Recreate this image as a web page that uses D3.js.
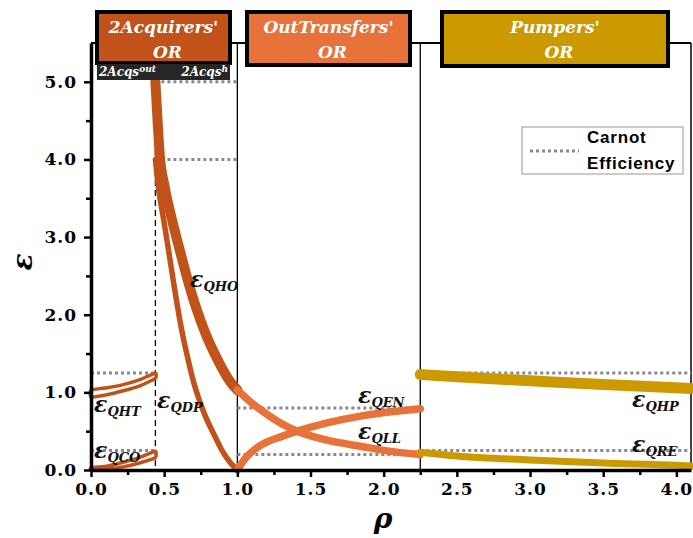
<!DOCTYPE html>
<html>
<head>
<meta charset="utf-8">
<script src="https://cdn.jsdelivr.net/npm/d3@7"></script>
<style>
  body { margin: 0; background: #fff; }
  svg { display: block; }
</style>
</head>
<body>
<svg id="canvas" width="693" height="538"></svg>
<script>
// curves: [rho, epsilon]
let qhtUp = [[0,1.03],[0.11,1.06],[0.22,1.10],[0.33,1.16],[0.44,1.25]];
let qhtLo = [[0,0.94],[0.11,0.97],[0.22,1.02],[0.33,1.08],[0.44,1.18]];
let qcoUp = [[0,0.03],[0.11,0.05],[0.22,0.10],[0.33,0.16],[0.44,0.24]];
let qcoLo = [[0,0.0],[0.11,0.01],[0.22,0.04],[0.33,0.09],[0.44,0.16]];
let qho = [[0.44,5.0],[0.455,4.5],[0.47,4.05],[0.5,3.68],[0.55,3.25],[0.6,2.88],[0.665,2.42],[0.72,2.08],[0.78,1.77],[0.86,1.44],[0.95,1.14],[1.0,1.03]];
let qdp = [[0.44,4.0],[0.46,3.65],[0.494,3.25],[0.52,2.95],[0.563,2.43],[0.62,1.8],[0.66,1.45],[0.70,1.14],[0.74,0.9],[0.78,0.7],[0.84,0.46],[0.89,0.27],[0.95,0.1],[1.0,0.0]];
let qll = [[1.0,1.03],[1.1,0.86],[1.2,0.72],[1.3,0.6],[1.41,0.5],[1.6,0.39],[1.86,0.30],[2.05,0.24],[2.25,0.2]];
let qen = [[1.0,0.0],[1.03,0.09],[1.09,0.22],[1.18,0.34],[1.3,0.43],[1.41,0.5],[1.6,0.6],[1.86,0.70],[2.05,0.75],[2.25,0.79]];
let qhp = [[2.25,1.23],[2.5,1.2],[3.0,1.15],[3.5,1.1],[4.0,1.06],[4.1,1.05]];
let qre = [[2.25,0.23],[2.5,0.18],[3.0,0.13],[3.5,0.09],[4.0,0.06],[4.1,0.05]];

// carnot efficiency segments: [rho start, rho end, epsilon]
let carnot = [[0,0.44,1.25],[0,0.44,0.25],[0.44,1.0,5.0],[0.44,1.0,4.0],[1.0,2.25,0.8],[1.0,2.25,0.2],[2.25,4.1,1.25],[2.25,4.1,0.25]];

let yTicks = [0,1,2,3,4,5];
let yMinor = [0.5,1.5,2.5,3.5,4.5];
let xTicks = [0,0.5,1,1.5,2,2.5,3,3.5,4];
let xMinor = [0.25,0.75,1.25,1.75,2.25,2.75,3.25,3.75];
let regionBreaks = [0.44,1.0,2.25];

let c1 = '#c0521a', c2 = '#e8733a', c3 = '#cc9900';

let svg = d3.select('#canvas');
let x = d3.scaleLinear().domain([0,4.1]).range([91,691]);
let y = d3.scaleLinear().domain([0,5.5]).range([470,43]);

let line = d3.line().x(d=>x(d[0])).y(d=>y(d[1])).curve(d3.curveMonotoneX);
let serif = '"DejaVu Serif", serif';

// frame
svg.append('line').attr('x1',x(0)).attr('x2',x(4.1)).attr('y1',y(5.5)).attr('y2',y(5.5))
    .attr('stroke','#000').attr('stroke-width',2);
svg.append('line').attr('x1',x(4.1)).attr('x2',x(4.1)).attr('y1',y(5.5)).attr('y2',y(0))
    .attr('stroke','#000').attr('stroke-width',1.5);

// region separators
svg.append('line').attr('x1',x(regionBreaks[0])).attr('x2',x(regionBreaks[0]))
    .attr('y1',80).attr('y2',y(0)).attr('stroke','#000').attr('stroke-width',1.3)
    .attr('stroke-dasharray','6,4');
regionBreaks.slice(1).forEach(b=>{
    svg.append('line').attr('x1',x(b)).attr('x2',x(b)).attr('y1',y(5.5)).attr('y2',y(0))
        .attr('stroke','#000').attr('stroke-width',1.3);
});

// carnot lines
svg.selectAll('.carnot').data(carnot).enter().append('line')
    .attr('class','carnot')
    .attr('x1',d=>x(d[0])).attr('x2',d=>x(d[1]))
    .attr('y1',d=>y(d[2])).attr('y2',d=>y(d[2]))
    .attr('stroke','#8a8a8a').attr('stroke-width',3).attr('stroke-dasharray','3,3');

// curves
function band(up, lo, col){
    let pts = up.concat(lo.slice().reverse());
    svg.append('path')
        .attr('d', d3.line().x(d=>x(d[0])).y(d=>y(d[1])).curve(d3.curveCardinalClosed.tension(0.6))(pts))
        .attr('fill','none').attr('stroke',col).attr('stroke-width',3.5);
}
band(qhtUp, qhtLo, c1);
band(qcoUp, qcoLo, c1);

let curves = [
    {d:qdp, c:c1, w:5.5},
    {d:qho, c:c1, w:10},
    {d:qll, c:c2, w:7.5},
    {d:qen, c:c2, w:7.5},
    {d:qhp, c:c3, w:11},
    {d:qre, c:c3, w:7}
];
svg.selectAll('.curve').data(curves).enter().append('path')
    .attr('class','curve')
    .attr('d',d=>line(d.d))
    .attr('fill','none')
    .attr('stroke',d=>d.c)
    .attr('stroke-width',d=>d.w)
    .attr('stroke-linecap','round');

// axes
let yAxis = svg.append('g').attr('transform','translate('+x(0)+',0)')
    .call(d3.axisLeft(y).tickValues(yTicks).tickFormat(d3.format('.1f')).tickSize(7).tickSizeOuter(0));
svg.append('g').attr('transform','translate('+x(0)+',0)')
    .call(d3.axisLeft(y).tickValues(yMinor).tickFormat('').tickSize(5).tickSizeOuter(0))
    .select('.domain').remove();
let xAxis = svg.append('g').attr('transform','translate(0,'+y(0)+')')
    .call(d3.axisBottom(x).tickValues(xTicks).tickFormat(d3.format('.1f')).tickSize(7).tickSizeOuter(0));
svg.append('g').attr('transform','translate(0,'+y(0)+')')
    .call(d3.axisBottom(x).tickValues(xMinor).tickFormat('').tickSize(5).tickSizeOuter(0))
    .select('.domain').remove();

svg.selectAll('.domain').attr('stroke-width',3.5);
svg.selectAll('.tick line').attr('stroke-width',2.5);
yAxis.selectAll('text').attr('font-family',serif).attr('font-weight','bold')
    .attr('font-size',17).attr('letter-spacing',1).attr('x',-14).attr('fill','#000');
xAxis.selectAll('text').attr('font-family',serif).attr('font-weight','bold')
    .attr('font-size',17).attr('letter-spacing',1).attr('y',13).attr('fill','#000');

// axis titles
svg.append('text').attr('transform','translate(32,262) rotate(-90)')
    .attr('text-anchor','middle').attr('font-family',serif).attr('font-weight','bold')
    .attr('font-style','italic').attr('font-size',28).text('ε');
svg.append('text').attr('x',383).attr('y',528)
    .attr('text-anchor','middle').attr('font-family',serif).attr('font-weight','bold')
    .attr('font-style','italic').attr('font-size',28).text('ρ');

// curve labels
let labels = [
    {t:'QHO', x:190, y:287},
    {t:'QDP', x:157, y:408},
    {t:'QHT', x:94, y:412},
    {t:'QCO', x:94, y:458},
    {t:'QEN', x:358, y:403},
    {t:'QLL', x:358, y:439},
    {t:'QHP', x:632, y:407},
    {t:'QRE', x:632, y:452}
];
labels.forEach(l=>{
    let t = svg.append('text').attr('x',l.x).attr('y',l.y)
        .attr('font-family',serif).attr('font-weight','bold').attr('font-style','italic')
        .attr('fill','#111');
    t.append('tspan').attr('font-size',22).text('ε');
    t.append('tspan').attr('font-size',13).attr('dy',4).text(l.t);
});

// header boxes
let boxes = [
    {t:"2Acquirers'", x:97, w:133, h:51, c:c1},
    {t:"OutTransfers'", x:247, w:163, h:53, c:c2},
    {t:"Pumpers'", x:442, w:226, h:54, c:c3}
];
boxes.forEach(b=>{
    svg.append('rect').attr('x',b.x).attr('y',12).attr('width',b.w).attr('height',b.h)
        .attr('fill',b.c).attr('stroke','#000').attr('stroke-width',4);
    svg.append('text').attr('x',b.x+b.w/2).attr('y',33).attr('text-anchor','middle')
        .attr('font-family',serif).attr('font-weight','bold').attr('font-style','italic')
        .attr('font-size',17).attr('fill','#fff').text(b.t);
    svg.append('text').attr('x',b.x+b.w/2+4).attr('y',58).attr('text-anchor','middle')
        .attr('font-family',serif).attr('font-weight','bold').attr('font-style','italic')
        .attr('font-size',17).attr('fill','#fff').text('OR');
});

// dark strip under first box
svg.append('rect').attr('x',97).attr('y',64).attr('width',133).attr('height',16).attr('fill','#262626');
let s1 = svg.append('text').attr('x',99).attr('y',76).attr('font-family',serif)
    .attr('font-weight','bold').attr('font-style','italic').attr('fill','#fff');
s1.append('tspan').attr('font-size',12).text('2Acqs');
s1.append('tspan').attr('font-size',9).attr('dy',-4).text('out');
let s2 = svg.append('text').attr('x',228).attr('y',76).attr('text-anchor','end').attr('font-family',serif)
    .attr('font-weight','bold').attr('font-style','italic').attr('fill','#fff');
s2.append('tspan').attr('font-size',12).text('2Acqs');
s2.append('tspan').attr('font-size',9).attr('dy',-4).text('h');

// legend
svg.append('rect').attr('x',522).attr('y',127).attr('width',161).attr('height',47)
    .attr('fill','#fff').attr('stroke','#bbb').attr('stroke-width',1.5);
svg.append('line').attr('x1',530).attr('x2',579).attr('y1',151).attr('y2',151)
    .attr('stroke','#8a8a8a').attr('stroke-width',3).attr('stroke-dasharray','3,3');
svg.append('text').attr('x',587).attr('y',143).attr('font-family','"Liberation Sans", Arial, sans-serif')
    .attr('font-weight','bold').attr('font-size',17).attr('letter-spacing',0.8).text('Carnot');
svg.append('text').attr('x',587).attr('y',169).attr('font-family','"Liberation Sans", Arial, sans-serif')
    .attr('font-weight','bold').attr('font-size',17).attr('letter-spacing',0.8).text('Efficiency');
</script>
</body>
</html>
